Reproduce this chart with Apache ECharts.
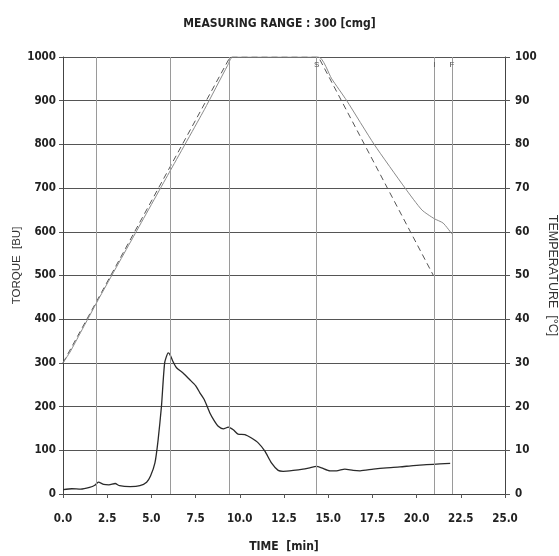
<!DOCTYPE html>
<html>
<head>
<meta charset="utf-8">
<script src="https://cdn.jsdelivr.net/npm/echarts@6/dist/echarts.min.js"></script>
<style>
html,body{margin:0;padding:0;background:#fff;}
#chart{width:559px;height:556px;}
</style>
</head>
<body>
<div id="chart"></div>
<script>
// ---- data ----
var torqueTime  = [0, 0.5, 1.0, 1.5, 1.8, 2.0, 2.3, 2.6, 2.95, 3.2, 3.8, 4.35, 4.73, 4.95, 5.2, 5.38, 5.57, 5.75, 5.95, 6.05, 6.2, 6.42, 6.79, 7.16, 7.5, 7.75, 8.0, 8.3, 8.55, 8.78, 9.07, 9.35, 9.63, 9.9, 10.29, 10.66, 11.04, 11.42, 11.79, 12.17, 12.45, 13.02, 13.58, 13.96, 14.33, 14.62, 15.1, 15.47, 15.94, 16.41, 16.8, 17.55, 18.3, 19.06, 19.81, 20.56, 21.32, 21.9];
var torqueValue = [10, 12, 11, 15, 20, 27, 22, 21, 24, 19, 17, 19, 27, 41, 71, 124, 201, 300, 323, 319, 305, 289, 277, 262, 248, 231, 215, 186, 168, 155, 149, 153, 147, 137, 136, 128, 117, 98, 71, 54, 52, 54, 57, 60, 63, 60, 53, 53, 57, 54, 53, 57, 60, 62, 65, 67, 69, 70];

var progTempTime  = [0, 9.45, 14.45, 20.95];
var progTempValue = [30, 100, 100, 50];

var measTempTime  = [0, 0.4, 1.0, 2.0, 4.0, 6.0, 8.0, 9.3, 9.6, 14.45, 15.2, 16.05, 17.6, 19.35, 20.3, 21.0, 21.5, 22.0];
var measTempValue = [30, 32.5, 37, 44.5, 59, 73.5, 88, 98, 100, 100, 95, 90, 80, 70, 65, 63, 62, 59.5];

var eventTimes  = [1.9, 6.05, 9.4, 14.35, 21.0, 22.0];
var eventLabels = ['', '', '', 'S', 'I', 'F'];

var titleText = 'MEASURING RANGE : 300 [cmg]';
var xName = 'TIME  [min]';
var yLeftName = 'TORQUE  [BU]';
var yRightName = 'TEMPERATURE  [°C]';

function pairs(xs, ys) { return xs.map(function (x, i) { return [x, ys[i]]; }); }

var narrow = "'Liberation Sans Narrow', 'DejaVu Sans Condensed', 'Liberation Sans', sans-serif";
var tickFont = { fontFamily: narrow, fontSize: 11.5, fontWeight: 'bold', color: '#222' };

var chart = echarts.init(document.getElementById('chart'), null, { renderer: 'canvas' });
chart.setOption({
  animation: false,
  backgroundColor: '#ffffff',
  title: {
    text: titleText, left: 'center', top: 13,
    textStyle: { fontFamily: narrow, fontSize: 12, fontWeight: 'bold', color: '#222' }
  },
  grid: { left: 63, right: 54, top: 57, bottom: 62, outerBoundsMode: 'none', containLabel: false },
  xAxis: {
    type: 'value', min: 0, max: 25, interval: 2.5,
    name: xName, nameLocation: 'middle', nameGap: 47, nameMoveOverlap: false,
    nameTextStyle: { fontFamily: narrow, fontSize: 12, fontWeight: 'bold', color: '#222' },
    axisLine: { show: true, onZero: false, lineStyle: { color: '#444', width: 1 } },
    axisTick: { show: true, length: 4, lineStyle: { color: '#555' } },
    axisLabel: Object.assign({ margin: 19, formatter: function (v) { return v.toFixed(1); } }, tickFont),
    splitLine: { show: false }
  },
  yAxis: [
    {
      type: 'value', min: 0, max: 1000, interval: 100, position: 'left',
      name: yLeftName, nameLocation: 'middle', nameGap: 40, nameRotate: 90, nameMoveOverlap: false,
      nameTextStyle: { fontFamily: "'Liberation Sans', sans-serif", fontSize: 11.5, color: '#333', padding: [0, 0, 0, 20] },
      axisLine: { show: true, lineStyle: { color: '#444', width: 1 } },
      axisTick: { show: true, length: 4, lineStyle: { color: '#555' } },
      axisLabel: Object.assign({ margin: 7, formatter: function (v) { return String(v); } }, tickFont),
      splitLine: { show: true, lineStyle: { color: '#555', width: 1 } }
    },
    {
      type: 'value', min: 0, max: 100, interval: 10, position: 'right',
      name: yRightName, nameLocation: 'middle', nameGap: 41, nameRotate: -90, nameMoveOverlap: false,
      nameTextStyle: { fontFamily: "'Liberation Sans', sans-serif", fontSize: 12.5, color: '#333' },
      axisLine: { show: true, lineStyle: { color: '#444', width: 1 } },
      axisTick: { show: true, length: 5, lineStyle: { color: '#555' } },
      axisLabel: Object.assign({ margin: 10, formatter: function (v) { return String(v); } }, tickFont),
      splitLine: { show: false }
    }
  ],
  series: [
    {
      name: 'Torque', type: 'line', yAxisIndex: 0, showSymbol: false, smooth: 0.2,
      data: pairs(torqueTime, torqueValue),
      lineStyle: { color: '#2a2a2a', width: 1.3 },
      markLine: {
        silent: true, symbol: 'none',
        lineStyle: { color: '#9a9a9a', width: 1, type: 'solid' },
        label: { show: true, position: 'end', distance: -12, fontSize: 8, color: '#555',
                 formatter: function (p) { return p.data.tag; } },
        data: eventTimes.map(function (t, i) { return { xAxis: t, tag: eventLabels[i] }; })
      }
    },
    {
      name: 'Temperature program', type: 'line', yAxisIndex: 1, showSymbol: false,
      data: pairs(progTempTime, progTempValue),
      lineStyle: { color: '#555', width: 1, type: [6, 4] }
    },
    {
      name: 'Temperature measured', type: 'line', yAxisIndex: 1, showSymbol: false, smooth: 0.2,
      data: pairs(measTempTime, measTempValue),
      lineStyle: { color: '#8a8a8a', width: 1 }
    }
  ]
});
</script>
</body>
</html>
